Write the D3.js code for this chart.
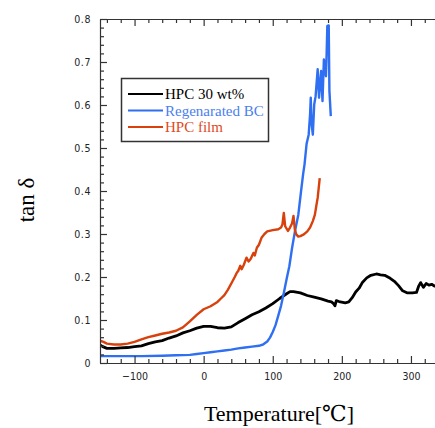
<!DOCTYPE html>
<html>
<head>
<meta charset="utf-8">
<script src="https://cdn.jsdelivr.net/npm/d3@7"></script>
<style>
  body { margin: 0; background: #fff; }
  svg { display: block; }
  .tick text { font-family: "DejaVu Sans Condensed", "DejaVu Sans", sans-serif; font-size: 10.5px; fill: #222; }
  .axis path, .axis line { stroke: #333; stroke-width: 1.2; }
</style>
</head>
<body>
<svg id="chart" width="435" height="428"></svg>
<script>
// temperature [°C], tan delta
const hpc30 = [
  [-150, 0.042], [-146, 0.038], [-140, 0.034], [-130, 0.034], [-120, 0.035], [-110, 0.036],
  [-100, 0.038], [-90, 0.040], [-80, 0.045], [-70, 0.049], [-60, 0.052], [-50, 0.058],
  [-40, 0.063], [-30, 0.070], [-20, 0.075], [-10, 0.081], [0, 0.085], [10, 0.085],
  [20, 0.082], [30, 0.081], [40, 0.084], [50, 0.094], [60, 0.103], [70, 0.112],
  [80, 0.119], [90, 0.128], [100, 0.138], [110, 0.150], [120, 0.161], [125, 0.166],
  [130, 0.166], [140, 0.163], [150, 0.157], [160, 0.153], [170, 0.149], [180, 0.144],
  [185, 0.142], [188, 0.138], [190, 0.133], [192, 0.145], [196, 0.143], [205, 0.140],
  [210, 0.142], [215, 0.152], [220, 0.165], [225, 0.174], [230, 0.188], [236, 0.198],
  [242, 0.204], [250, 0.207], [256, 0.205], [262, 0.204], [270, 0.197], [276, 0.190],
  [282, 0.180], [288, 0.168], [295, 0.163], [302, 0.163], [308, 0.164], [311, 0.178],
  [314, 0.187], [318, 0.176], [322, 0.185], [326, 0.181], [330, 0.183], [334, 0.179], [340, 0.180]
];

const regBC = [
  [-150, 0.016], [-120, 0.016], [-90, 0.016], [-60, 0.017], [-40, 0.018], [-20, 0.019],
  [-10, 0.021], [0, 0.023], [10, 0.025], [20, 0.027], [30, 0.029], [40, 0.031],
  [50, 0.034], [60, 0.036], [70, 0.038], [80, 0.040], [86, 0.043], [92, 0.050],
  [96, 0.059], [100, 0.072], [104, 0.088], [108, 0.110], [112, 0.133], [116, 0.163],
  [120, 0.195], [124, 0.225], [128, 0.268], [132, 0.305], [137, 0.345], [141, 0.400],
  [144, 0.440], [146, 0.462], [149, 0.510], [152, 0.531], [154, 0.578], [155, 0.617],
  [156, 0.560], [158, 0.531], [160, 0.601], [162, 0.620], [165, 0.683], [167, 0.617],
  [169, 0.660], [170, 0.679], [172, 0.609], [174, 0.706], [175, 0.690], [177, 0.667],
  [178, 0.720], [179, 0.784], [181, 0.785], [182, 0.633], [184, 0.574]
];

const hpcFilm = [
  [-150, 0.052], [-145, 0.049], [-140, 0.045], [-130, 0.043], [-120, 0.043], [-110, 0.045],
  [-100, 0.049], [-90, 0.055], [-80, 0.060], [-70, 0.064], [-60, 0.068], [-50, 0.071],
  [-40, 0.075], [-30, 0.083], [-20, 0.097], [-10, 0.112], [0, 0.125], [10, 0.132],
  [20, 0.142], [25, 0.150], [30, 0.158], [35, 0.170], [40, 0.185], [45, 0.200],
  [48, 0.210], [50, 0.214], [53, 0.226], [55, 0.218], [58, 0.228], [62, 0.245],
  [65, 0.236], [68, 0.242], [72, 0.256], [74, 0.250], [77, 0.268], [80, 0.275],
  [84, 0.292], [88, 0.300], [92, 0.306], [100, 0.309], [108, 0.311], [112, 0.315],
  [114, 0.322], [116, 0.349], [118, 0.318], [122, 0.307], [125, 0.315], [128, 0.325],
  [130, 0.342], [132, 0.310], [134, 0.299], [137, 0.294], [140, 0.295], [145, 0.299],
  [150, 0.306], [154, 0.315], [158, 0.330], [161, 0.345], [163, 0.365], [165, 0.384], [168, 0.430]
];

const seriesNames = ["HPC 30 wt%", "Regenarated BC", "HPC film"];
const seriesColors = ["#000000", "#2f6ff2", "#d8400c"];
const legendTextColors = ["#000000", "#4a80f0", "#e04a1c"];

const xMajorTicks = [-100, 0, 100, 200, 300];
const xMinorTicks = [-140, -120, -80, -60, -40, -20, 20, 40, 60, 80, 120, 140, 160, 180, 220, 240, 260, 280, 320, 340];
const yMajorTicks = [0, 0.1, 0.2, 0.3, 0.4, 0.5, 0.6, 0.7, 0.8];
const yMinorTicks = [0.02, 0.04, 0.06, 0.08, 0.12, 0.14, 0.16, 0.18, 0.22, 0.24, 0.26, 0.28,
  0.32, 0.34, 0.36, 0.38, 0.42, 0.44, 0.46, 0.48, 0.52, 0.54, 0.56, 0.58,
  0.62, 0.64, 0.66, 0.68, 0.72, 0.74, 0.76, 0.78];

const svg = d3.select("#chart");
const plotLeft = 100, plotTop = 19, plotBottom = 363;

const x = d3.scaleLinear().domain([-150, 350]).range([plotLeft, plotLeft + 500 * 0.691]);
const y = d3.scaleLinear().domain([0, 0.8]).range([plotBottom, plotTop]);

svg.append("clipPath").attr("id", "plot-clip")
  .append("rect").attr("x", plotLeft).attr("y", plotTop)
  .attr("width", 435 - plotLeft).attr("height", plotBottom - plotTop);

// lines
const line = d3.line().x(d => x(d[0])).y(d => y(d[1]));
const plot = svg.append("g").attr("clip-path", "url(#plot-clip)");
[hpc30, regBC, hpcFilm].forEach((data, i) => {
  plot.append("path")
    .datum(data)
    .attr("fill", "none")
    .attr("stroke", seriesColors[i])
    .attr("stroke-width", i === 0 ? 2.8 : 2.4)
    .attr("stroke-linejoin", "round")
    .attr("d", line);
});

// bottom axis
svg.append("g").attr("class", "axis")
  .attr("transform", `translate(0,${plotBottom})`)
  .call(d3.axisBottom(x).tickValues(xMajorTicks).tickSizeInner(-7).tickSizeOuter(0).tickPadding(10))
  .call(g => g.selectAll(".tick text").attr("dy", "0.71em"));
svg.append("g").attr("class", "axis")
  .attr("transform", `translate(0,${plotBottom})`)
  .call(d3.axisBottom(x).tickValues(xMinorTicks).tickSizeInner(-4).tickSizeOuter(0).tickFormat(""))
  .call(g => g.select(".domain").remove());

// top axis
svg.append("g").attr("class", "axis")
  .attr("transform", `translate(0,${plotTop})`)
  .call(d3.axisTop(x).tickValues(xMajorTicks).tickSizeInner(-7).tickSizeOuter(0).tickFormat(""));
svg.append("g").attr("class", "axis")
  .attr("transform", `translate(0,${plotTop})`)
  .call(d3.axisTop(x).tickValues(xMinorTicks).tickSizeInner(-4).tickSizeOuter(0).tickFormat(""))
  .call(g => g.select(".domain").remove());

// left axis
svg.append("g").attr("class", "axis")
  .attr("transform", `translate(${plotLeft},0)`)
  .call(d3.axisLeft(y).tickValues(yMajorTicks).tickSizeInner(-7).tickSizeOuter(0).tickPadding(9)
    .tickFormat(d => d === 0 ? "0" : d3.format(".1f")(d)))
  .call(g => g.selectAll(".tick text").attr("letter-spacing", "0.6px"));
svg.append("g").attr("class", "axis")
  .attr("transform", `translate(${plotLeft},0)`)
  .call(d3.axisLeft(y).tickValues(yMinorTicks).tickSizeInner(-4).tickSizeOuter(0).tickFormat(""))
  .call(g => g.select(".domain").remove());

// axis titles
svg.append("text")
  .attr("transform", "translate(34,200) rotate(-90)")
  .attr("text-anchor", "middle")
  .style("font-family", "'Liberation Serif', 'DejaVu Serif', serif")
  .style("font-size", "23px")
  .text("tan δ");

svg.append("text")
  .attr("x", 279).attr("y", 421)
  .attr("text-anchor", "middle")
  .style("font-family", "'Liberation Serif', 'DejaVu Serif', serif")
  .style("font-size", "22px")
  .text("Temperature[℃]");

// legend
const legend = svg.append("g");
legend.append("rect")
  .attr("x", 121.5).attr("y", 78.5).attr("width", 147).attr("height", 63)
  .attr("fill", "#fff").attr("stroke", "#333").attr("stroke-width", 1.5);
seriesNames.forEach((name, i) => {
  const ly = 94 + i * 16.5;
  legend.append("line")
    .attr("x1", 128).attr("x2", 163).attr("y1", ly).attr("y2", ly)
    .attr("stroke", seriesColors[i]).attr("stroke-width", 2.2);
  legend.append("text")
    .attr("x", 165).attr("y", ly + 5)
    .attr("fill", legendTextColors[i])
    .style("font-family", "'Liberation Serif', 'DejaVu Serif', serif")
    .style("font-size", "15px")
    .text(name);
});
</script>
</body>
</html>
